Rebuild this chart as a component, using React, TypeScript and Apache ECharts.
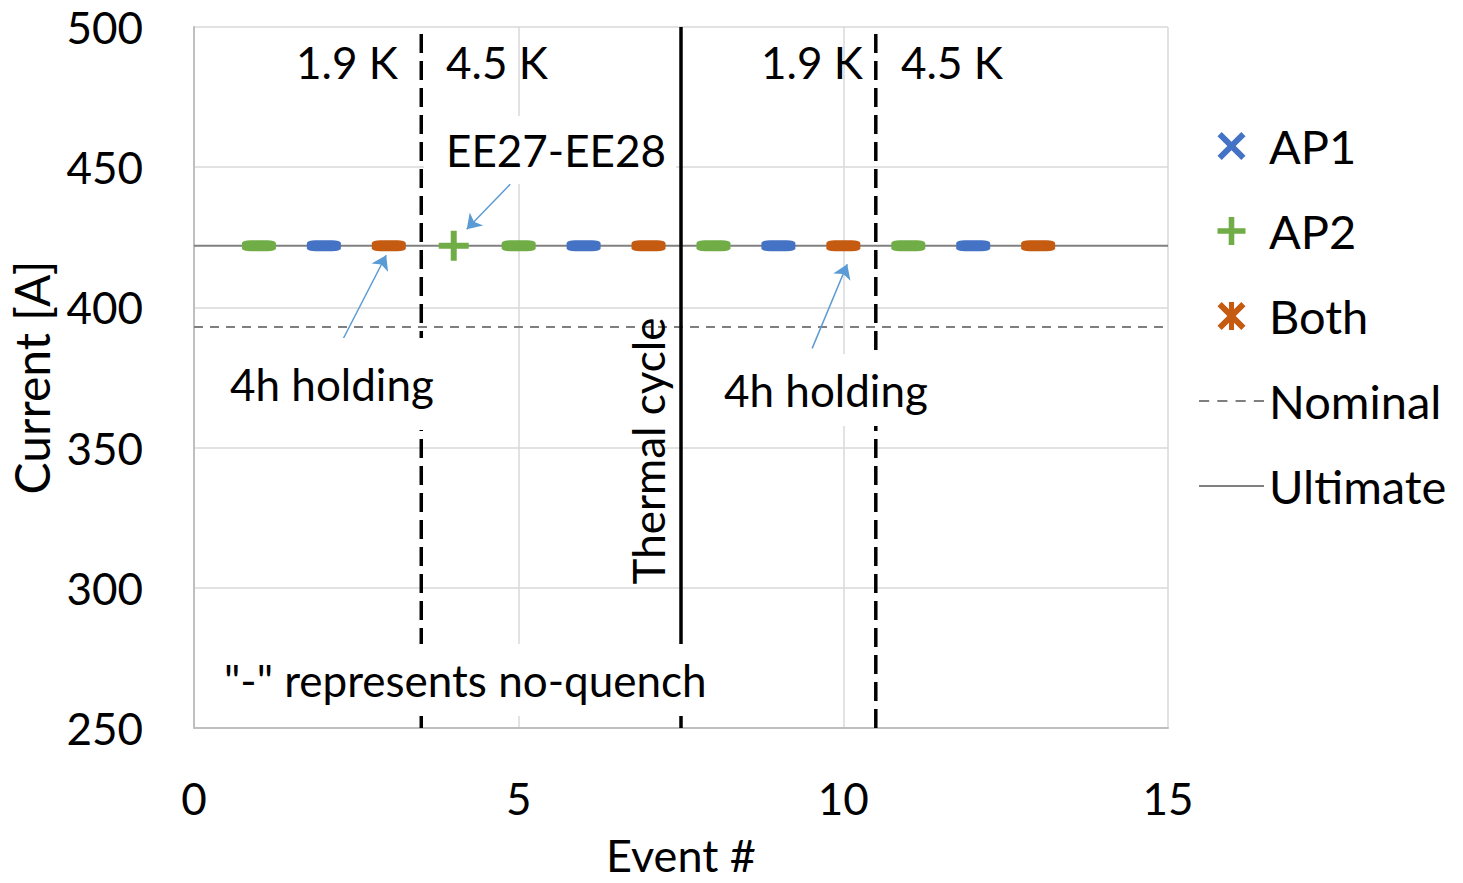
import React, { useEffect, useRef } from "react";
import * as echarts from "echarts";

// ---- data ----
const xTicks = [0, 5, 10, 15];
const yTicks = [250, 300, 350, 400, 450, 500];
const ap1Events = [2, 6, 9, 12];
const ap1Current = [422, 422, 422, 422];
const ap2Events = [1, 5, 8, 11];
const ap2Current = [422, 422, 422, 422];
const ap2QuenchEvents = [4];
const ap2QuenchCurrent = [422];
const bothEvents = [3, 7, 10, 13];
const bothCurrent = [422, 422, 422, 422];
const nominalCurrent = 393;
const ultimateCurrent = 422;
const dividerEvents = [3.5, 7.5, 10.5];
const dividerStyles = ["dashed", "solid", "dashed"];
const arrowStarts = [[2.3, 388.9], [4.87, 443.9], [9.52, 385.4]];
const arrowEnds = [[2.96, 418.6], [4.2, 427.9], [10.06, 415.4]];

const FONT = "Lato";
const X_PATH =
  "path://M15,0 L50,35 L85,0 L100,15 L65,50 L100,85 L85,100 L50,65 L15,100 L0,85 L35,50 L0,15 Z";
const PLUS_PATH = "path://M40,0 H60 V40 H100 V60 H60 V100 H40 V60 H0 V40 H40 Z";
const AST_PATH =
  "path://M15,0 L50,35 L85,0 L100,15 L65,50 L100,85 L85,100 L50,65 L15,100 L0,85 L35,50 L0,15 Z M41,0 H59 V100 H41 Z";
const DASH_LINE_PATH =
  "path://M0,0 H10 V2 H0 Z M18,0 H28 V2 H18 Z M36,0 H46 V2 H36 Z M54,0 H64 V2 H54 Z";
const SOLID_LINE_PATH = "path://M0,0 H65 V2 H0 Z";

const BLUE = "#4472C4";
const GREEN = "#70AD47";
const ORANGE = "#C55A11";

const dash = (events: number[], vals: number[]) => events.map((e, i) => [e, vals[i]]);

export default function App() {
  const ref = useRef<HTMLDivElement>(null);
  useEffect(() => {
    if (!ref.current) return;
    const chart = echarts.init(ref.current, undefined, { renderer: "svg" });
    const txt = (text: string, x: number, y: number, extra: any = {}) => ({
      type: "text",
      x,
      y,
      z: 100,
      style: {
        text,
        fill: "#000",
        font: `44px ${FONT}`,
        align: "left",
        verticalAlign: "middle",
        ...extra,
      },
    });
    const dividerSeries = dividerEvents.map((x, i) => ({
      name: "div" + i,
      type: "line",
      data: [
        [x, yTicks[0]],
        [x, yTicks[yTicks.length - 1]],
      ],
      symbol: "none",
      silent: true,
      z: 3,
      lineStyle: {
        color: "#000",
        width: 3.5,
        type: dividerStyles[i] === "dashed" ? [19, 8] : "solid",
      },
    }));
    const option: any = {
      animation: false,
      grid: {
        left: 194,
        right: 295,
        top: 27,
        bottom: 155,
        containLabel: false,
        outerBoundsMode: "none",
      },
      xAxis: {
        type: "value",
        min: xTicks[0],
        max: xTicks[xTicks.length - 1],
        interval: 5,
        name: "Event #",
        nameLocation: "middle",
        nameGap: 105,
        nameTextStyle: { fontSize: 45, lineHeight: 44, fontFamily: FONT, color: "#000" },
        axisLine: { show: true, onZero: false, lineStyle: { color: "#bfbfbf", width: 2 } },
        axisTick: { show: false },
        axisLabel: { fontSize: 44, fontFamily: FONT, color: "#000", margin: 48 },
        splitLine: { show: true, lineStyle: { color: "#d9d9d9", width: 1.5 } },
      },
      yAxis: {
        type: "value",
        min: yTicks[0],
        max: yTicks[yTicks.length - 1],
        interval: 50,
        name: "Current [A]",
        nameLocation: "middle",
        nameGap: 130,
        nameTextStyle: { fontSize: 48, fontFamily: FONT, color: "#000" },
        axisLine: { show: true, lineStyle: { color: "#bfbfbf", width: 2 } },
        axisTick: { show: false },
        axisLabel: { fontSize: 44, fontFamily: FONT, color: "#000", margin: 51 },
        splitLine: { show: true, lineStyle: { color: "#d9d9d9", width: 1.5 } },
      },
      legend: {
        orient: "vertical",
        left: 1194,
        top: 116,
        itemWidth: 65,
        itemHeight: 28,
        itemGap: 35,
        selectedMode: false,
        textStyle: { fontSize: 47, fontFamily: FONT, color: "#000", lineHeight: 50 },
        data: [
          { name: "AP1", icon: X_PATH },
          { name: "AP2", icon: PLUS_PATH },
          { name: "Both", icon: AST_PATH },
          { name: "Nominal", icon: DASH_LINE_PATH },
          { name: "Ultimate", icon: SOLID_LINE_PATH },
        ],
      },
      series: [
        {
          name: "Nominal",
          type: "line",
          data: [
            [xTicks[0], nominalCurrent],
            [xTicks[xTicks.length - 1], nominalCurrent],
          ],
          symbol: "none",
          showSymbol: false,
          z: 2,
          color: "#7f7f7f",
          lineStyle: { color: "#7f7f7f", width: 2, type: [9, 7] },
          silent: true,
        },
        {
          name: "Ultimate",
          type: "line",
          data: [
            [xTicks[0], ultimateCurrent],
            [xTicks[xTicks.length - 1], ultimateCurrent],
          ],
          symbol: "none",
          showSymbol: false,
          z: 2,
          color: "#808080",
          lineStyle: { color: "#808080", width: 2 },
          silent: true,
          markLine: {
            silent: true,
            symbol: ["none", "arrow"],
            symbolSize: 14,
            label: { show: false },
            lineStyle: { color: "#5B9BD5", width: 1.5, type: "solid" },
            emphasis: { disabled: true },
            data: arrowStarts.map((s, i) => [{ coord: s }, { coord: arrowEnds[i] }]),
          },
        },
        ...dividerSeries,
        {
          name: "AP1",
          type: "scatter",
          z: 5,
          color: BLUE,
          itemStyle: { opacity: 1 },
          symbol: "roundRect",
          symbolSize: [34, 11],
          data: dash(ap1Events, ap1Current),
        },
        {
          name: "AP2",
          type: "scatter",
          z: 5,
          color: GREEN,
          itemStyle: { opacity: 1 },
          symbol: "roundRect",
          symbolSize: [34, 11],
          data: [
            ...dash(ap2Events, ap2Current),
            ...ap2QuenchEvents.map((e, i) => ({
              value: [e, ap2QuenchCurrent[i]],
              symbol: PLUS_PATH,
              symbolSize: 30,
            })),
          ],
        },
        {
          name: "Both",
          type: "scatter",
          z: 5,
          color: ORANGE,
          itemStyle: { opacity: 1 },
          symbol: "roundRect",
          symbolSize: [34, 11],
          data: dash(bothEvents, bothCurrent),
        },
      ],
      graphic: [
        txt("1.9 K", 296, 62),
        txt("4.5 K", 446, 62),
        txt("1.9 K", 761, 62),
        txt("4.5 K", 901, 62),
        txt("EE27-EE28", 424, 150, {
          backgroundColor: "#fff",
          padding: [12, 10, 12, 22],
        }),
        txt("4h holding", 226, 384, {
          backgroundColor: "#fff",
          padding: [26, 6, 22, 4],
        }),
        txt("4h holding", 716, 390, {
          backgroundColor: "#fff",
          padding: [14, 10, 14, 8],
        }),
        txt("\"-\" represents no-quench", 224, 680, {
          backgroundColor: "#fff",
          padding: [14, 6, 14, 0],
        }),
        {
          type: "text",
          x: 648,
          y: 451,
          rotation: Math.PI / 2,
          z: 100,
          style: {
            text: "Thermal cycle",
            fill: "#000",
            font: `44px ${FONT}`,
            align: "center",
            verticalAlign: "middle",
          },
        },
      ],
    };
    chart.setOption(option);
    return () => chart.dispose();
  }, []);
  return (
    <div
      ref={ref}
      style={{ position: "absolute", left: 0, top: 0, width: 1463, height: 883, background: "#fff" }}
    />
  );
}
